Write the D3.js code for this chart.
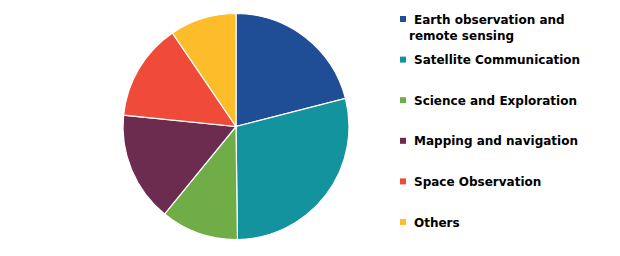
<!DOCTYPE html>
<html>
<head>
<meta charset="utf-8">
<script src="https://cdn.jsdelivr.net/npm/d3@7"></script>
<style>
  html, body { margin: 0; padding: 0; background: #fff; }
  svg { display: block; }
  text { font-family: "DejaVu Sans", Verdana, sans-serif; font-weight: bold; font-size: 12px; fill: #000; }
</style>
</head>
<body>
<svg id="chart" width="620" height="256"></svg>
<script>
const categories = ["Earth observation and remote sensing", "Satellite Communication", "Science and Exploration", "Mapping and navigation", "Space Observation", "Others"];
const legendLines = [["Earth observation and", "remote sensing"], ["Satellite Communication"], ["Science and Exploration"], ["Mapping and navigation"], ["Space Observation"], ["Others"]];
const values = [21.0, 28.8, 11.1, 15.7, 13.9, 9.5];
const colors = ["#1F4E96", "#12939E", "#70AD47", "#6B2C50", "#F04B3A", "#FDBD2A"];

const svg = d3.select("#chart");
const cx = 236, cy = 126.5, r = 113;

const pie = d3.pie().sort(null).value(d => d.value);
const arc = d3.arc().innerRadius(0).outerRadius(r);
const data = categories.map((c, i) => ({ name: c, value: values[i] }));

const color = d3.scaleOrdinal().domain(categories).range(colors);

svg.append("g").attr("transform", `translate(${cx},${cy})`)
  .selectAll("path").data(pie(data)).join("path")
  .attr("d", arc)
  .attr("fill", d => color(d.data.name))
  .attr("stroke", "#fff").attr("stroke-width", 1.2);

const ly = d3.scalePoint().domain(categories).range([19, 222]);
const leg = svg.append("g");
const items = leg.selectAll("g").data(categories).join("g")
  .attr("transform", d => `translate(400,${ly(d)})`);
items.append("rect").attr("x", 0).attr("y", -3).attr("width", 6).attr("height", 6)
  .attr("fill", d => color(d));
items.append("text").attr("x", 14).attr("y", 4.5)
  .each(function(d, i) {
    const t = d3.select(this);
    legendLines[i].forEach((line, j) => {
      t.append("tspan").attr("x", j === 0 ? 14 : 9).attr("dy", j === 0 ? 0 : 16.5).text(line);
    });
  });
</script>
</body>
</html>
